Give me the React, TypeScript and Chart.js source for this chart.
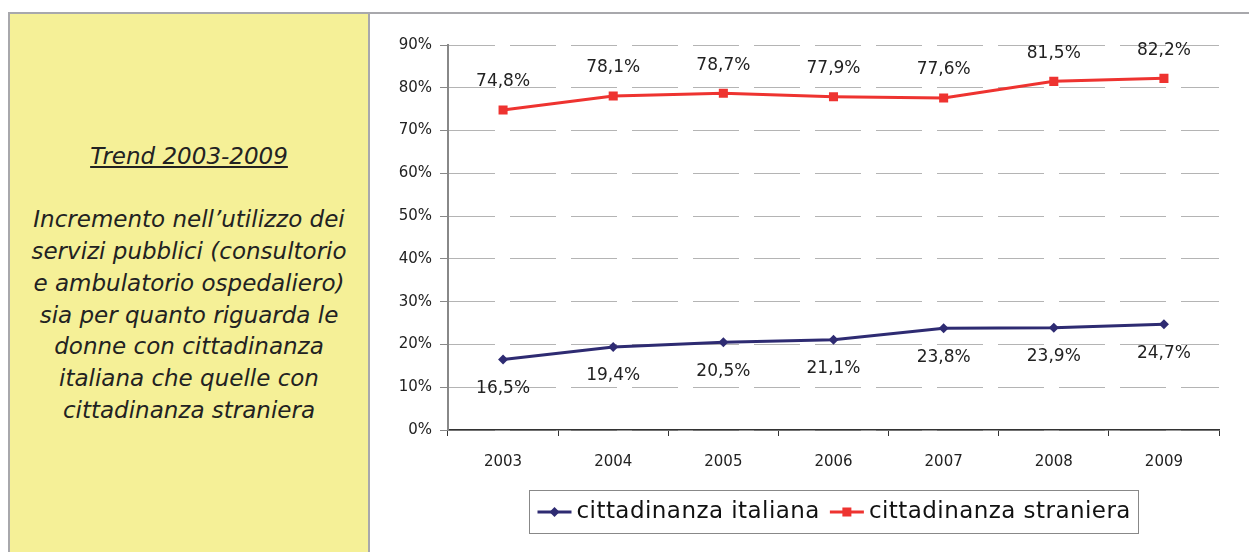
import React, { useEffect, useRef } from "react";
import { Chart, registerables } from "chart.js";

Chart.register(...registerables);

const years = ["2003", "2004", "2005", "2006", "2007", "2008", "2009"];
const italiana = [16.5, 19.4, 20.5, 21.1, 23.8, 23.9, 24.7];
const straniera = [74.8, 78.1, 78.7, 77.9, 77.6, 81.5, 82.2];
const seriesNames = ["cittadinanza italiana", "cittadinanza straniera"];
const yTicks = [0, 10, 20, 30, 40, 50, 60, 70, 80, 90];

const BLUE = "#2E2B72";
const RED = "#EE3330";
const FONT = "'DejaVu Sans', Verdana, sans-serif";

const fmt = (v: number) => v.toFixed(1).replace(".", ",") + "%";

const dataLabelsPlugin = {
  id: "dataLabels",
  afterDatasetsDraw(chart: any) {
    const ctx = chart.ctx;
    ctx.save();
    ctx.font = `17px ${FONT}`;
    ctx.fillStyle = "#222";
    ctx.textAlign = "center";
    ctx.textBaseline = "middle";
    chart.data.datasets.forEach((ds: any, i: number) => {
      const meta = chart.getDatasetMeta(i);
      const off = i === 0 ? 29 : -28;
      meta.data.forEach((pt: any, j: number) => {
        ctx.fillText(fmt(ds.data[j]), pt.x, pt.y + off);
      });
    });
    ctx.restore();
  },
};

const legendPlugin = {
  id: "boxLegend",
  afterDraw(chart: any) {
    const ctx = chart.ctx;
    const area = chart.chartArea;
    ctx.save();
    ctx.font = `23px ${FONT}`;
    if ("letterSpacing" in ctx) (ctx as any).letterSpacing = "0.45px";
    const lineLen = 34;
    const gapMarkText = 5;
    const gapItems = 10;
    const padX = 8;
    const items = chart.data.datasets.map((ds: any) => ({
      ds,
      w: ctx.measureText(ds.label).width,
    }));
    let total = padX * 2;
    items.forEach((it: any, k: number) => {
      total += lineLen + gapMarkText + it.w + (k > 0 ? gapItems : 0);
    });
    const cx = (area.left + area.right) / 2;
    const cy = area.bottom + 82;
    const h = 43;
    const left = Math.round(cx - total / 2) + 0.5;
    ctx.strokeStyle = "#888";
    ctx.lineWidth = 1;
    ctx.strokeRect(left, Math.round(cy - h / 2) - 0.5, Math.round(total), h);
    let x = left + padX;
    items.forEach((it: any, k: number) => {
      if (k > 0) x += gapItems;
      const ds = it.ds;
      ctx.strokeStyle = ds.borderColor;
      ctx.lineWidth = 3;
      ctx.beginPath();
      ctx.moveTo(x, cy);
      ctx.lineTo(x + lineLen, cy);
      ctx.stroke();
      ctx.fillStyle = ds.borderColor;
      const mx = x + lineLen / 2;
      if (ds.pointStyle === "rect") {
        ctx.fillRect(mx - 4.5, cy - 4.5, 9, 9);
      } else {
        ctx.beginPath();
        ctx.moveTo(mx, cy - 5);
        ctx.lineTo(mx + 5, cy);
        ctx.lineTo(mx, cy + 5);
        ctx.lineTo(mx - 5, cy);
        ctx.closePath();
        ctx.fill();
      }
      x += lineLen + gapMarkText;
      ctx.fillStyle = "#111";
      ctx.textAlign = "left";
      ctx.textBaseline = "middle";
      ctx.fillText(ds.label, x, cy);
      x += it.w;
    });
    ctx.restore();
  },
};

function LineChart() {
  const ref = useRef<HTMLCanvasElement>(null);
  useEffect(() => {
    if (!ref.current) return;
    const chart = new Chart(ref.current, {
      type: "line",
      data: {
        labels: years,
        datasets: [
          {
            label: seriesNames[0],
            data: italiana,
            borderColor: BLUE,
            backgroundColor: BLUE,
            borderWidth: 3,
            pointStyle: "rectRot",
            pointRadius: 5,
            pointBorderWidth: 0,
            tension: 0,
          },
          {
            label: seriesNames[1],
            data: straniera,
            borderColor: RED,
            backgroundColor: RED,
            borderWidth: 3,
            pointStyle: "rect",
            pointRadius: 6.4,
            pointBorderWidth: 0,
            tension: 0,
          },
        ],
      },
      options: {
        animation: false,
        responsive: false,
        events: [],
        layout: { padding: { top: 31, right: 30, left: 0, bottom: 0 } },
        plugins: {
          legend: { display: false },
          tooltip: { enabled: false },
        },
        scales: {
          x: {
            offset: true,
            grid: {
              display: true,
              offset: true,
              drawOnChartArea: false,
              drawTicks: true,
              tickLength: 6,
              tickColor: "#333",
              tickWidth: 1,
            },
            border: { display: true, color: "#333", width: 1.5 },
            ticks: {
              font: { family: FONT, size: 15 },
              color: "#222",
              padding: 17,
            },
            afterFit: (scale: any) => {
              scale.height = 122;
            },
          },
          y: {
            min: 0,
            max: 90,
            afterBuildTicks: (scale: any) => {
              scale.ticks = yTicks.map((v) => ({ value: v }));
            },
            grid: {
              color: "#b4b4b4",
              lineWidth: 1,
              drawTicks: true,
              tickLength: 8,
              tickColor: "#888",
              tickBorderDash: [],
              tickWidth: 1,
            },
            border: { display: true, color: "#888", width: 2, dash: [46, 15], dashOffset: 0 },
            ticks: {
              font: { family: FONT, size: 15 },
              color: "#222",
              padding: 8,
              callback: (v: any) => v + "%",
            },
            afterFit: (scale: any) => {
              scale.width = 78;
            },
          },
        },
      } as any,
      plugins: [dataLabelsPlugin, legendPlugin],
    });
    return () => chart.destroy();
  }, []);
  return (
    <canvas
      ref={ref}
      width={879}
      height={538}
      style={{ position: "absolute", left: 370, top: 14, width: 879, height: 538, display: "block" }}
    />
  );
}

export default function App() {
  const textStyle: React.CSSProperties = {
    fontFamily: FONT,
    fontStyle: "italic",
    fontSize: 23,
    lineHeight: "31.7px",
    color: "#222",
    textAlign: "center",
  };
  return (
    <div
      style={{
        position: "absolute",
        left: 0,
        top: 0,
        width: 1249,
        height: 552,
        overflow: "hidden",
        background: "#fff",
      }}
    >
      <div style={{ position: "absolute", left: 8, top: 12, width: 1241, height: 2, background: "#A8A8AC" }} />
      <div
        style={{
          position: "absolute",
          left: 8,
          top: 12,
          width: 362,
          height: 560,
          boxSizing: "border-box",
          border: "2px solid #A8A8AC",
          background: "#F5F097",
        }}
      >
        <div style={{ ...textStyle, position: "absolute", left: 0, right: 0, top: 127 }}>
          <div style={{ textDecoration: "underline" }}>Trend 2003-2009</div>
          <div>&nbsp;</div>
          <div>
            Incremento nell’utilizzo dei
            <br />
            servizi pubblici (consultorio
            <br />
            e ambulatorio ospedaliero)
            <br />
            sia per quanto riguarda le
            <br />
            donne con cittadinanza
            <br />
            italiana che quelle con
            <br />
            cittadinanza straniera
          </div>
        </div>
      </div>
      <LineChart />
    </div>
  );
}
